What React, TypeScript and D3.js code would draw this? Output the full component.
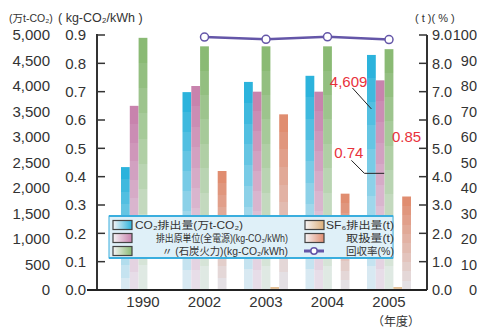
import React from "react";
import * as d3 from "d3";

const years = ["1990", "2002", "2003", "2004", "2005"];
const co2Emission = [2410, 3880, 4080, 4200, 4609]; // 万t-CO2
const intensityAll = [0.65, 0.72, 0.7, 0.7, 0.74]; // kg-CO2/kWh
const intensityCoal = [0.89, 0.86, 0.86, 0.86, 0.85]; // kg-CO2/kWh
const sf6Emission = [0, 0, 0.1, 0, 0.1]; // t
const sf6Handled = [0, 4.2, 6.2, 3.4, 3.3]; // t
const recoveryRate: (number | null)[] = [null, 99.2, 98.3, 99.3, 98.2]; // %

const co2Ticks = [0, 500, 1000, 1500, 2000, 2500, 3000, 3500, 4000, 4500, 5000];
const kwhTicks = [0, 0.1, 0.2, 0.3, 0.4, 0.5, 0.6, 0.7, 0.8, 0.9];
const tTicks = [0, 1, 2, 3, 4, 5, 6, 7, 8, 9];
const pctTicks = [0, 10, 20, 30, 40, 50, 60, 70, 80, 90, 100];

const legendLabels = [
  "CO₂排出量(万t-CO₂)",
  "排出原単位(全電源)(kg-CO₂/kWh)",
  "〃 (石炭火力)(kg-CO₂/kWh)",
  "SF₆排出量(t)",
  "取扱量(t)",
  "回収率(%)",
];

const FONT = "'Liberation Sans', Arial, 'Noto Sans CJK JP', sans-serif";
const RED = "#e8323c";
const PURPLE = "#6456a8";

const W = 477;
const H = 328;
const left = 97;
const right = 427;
const top = 35;
const bottom = 290;

const series = [
  { key: "co2", top: "#2cb3dc", bot: "#d8e9f2" },
  { key: "all", top: "#c883ad", bot: "#e7dde8" },
  { key: "coal", top: "#8aba74", bot: "#dfe9e3" },
  { key: "sf6", top: "#dcae78", bot: "#eadccb" },
  { key: "handled", top: "#e08d70", bot: "#e4e0e4" },
];

export default function App() {
  const x = d3
    .scaleBand<string>()
    .domain(years)
    .range([112.25, 419.75])
    .paddingInner(0.2846)
    .paddingOuter(0.1423);
  const xi = d3
    .scaleBand<string>()
    .domain(series.map((s) => s.key))
    .range([0, x.bandwidth()]);
  const yCo2 = d3.scaleLinear().domain([0, 5000]).range([bottom, top]);
  const yKwh = d3.scaleLinear().domain([0, 0.9]).range([bottom, top]);
  const yT = d3.scaleLinear().domain([0, 9]).range([bottom, top]);
  const yPct = d3.scaleLinear().domain([0, 100]).range([bottom, top]);

  const valueOf = (key: string, i: number) => {
    switch (key) {
      case "co2":
        return yCo2(co2Emission[i]);
      case "all":
        return yKwh(intensityAll[i]);
      case "coal":
        return yKwh(intensityCoal[i]);
      case "sf6":
        return yT(sf6Emission[i]);
      default:
        return yT(sf6Handled[i]);
    }
  };

  const steps = 10;
  const gradStops = (a: string, b: string) => {
    const interp = d3.interpolateRgb(a, b);
    const out: React.ReactElement[] = [];
    for (let i = 0; i < steps; i++) {
      const c = interp(i / (steps - 1));
      out.push(<stop key={i + "a"} offset={i / steps} stopColor={c} />);
      out.push(<stop key={i + "b"} offset={(i + 1) / steps} stopColor={c} />);
    }
    return out;
  };

  const line = d3
    .line<{ v: number; i: number }>()
    .x((d) => (x(years[d.i]) as number) + x.bandwidth() / 2)
    .y((d) => yPct(d.v));
  const linePts = recoveryRate
    .map((v, i) => ({ v: v as number, i }))
    .filter((d) => recoveryRate[d.i] !== null);

  // annotation anchors (from data)
  const last = years.length - 1;
  const bx = (k: string) => (x(years[last]) as number) + (xi(k) as number) + xi.bandwidth() / 2;
  const co2Y = yCo2(co2Emission[last]);
  const allY = yKwh(intensityAll[last]);
  const coalY = yKwh(intensityCoal[last]);

  const legendRows = [
    { key: "co2", y: 225 },
    { key: "all", y: 238 },
    { key: "coal", y: 251 },
  ];

  return (
    <svg width={W} height={H} style={{ position: "absolute", left: 0, top: 0 }} fontFamily={FONT}>
      <defs>
        {series.map((s) => (
          <linearGradient key={s.key} id={"g-" + s.key} x1="0" y1="0" x2="0" y2="1">
            {gradStops(s.top, s.bot)}
          </linearGradient>
        ))}
        {series.map((s) => (
          <linearGradient key={s.key} id={"lg-" + s.key} x1="0" y1="0" x2="1" y2="0">
            <stop offset="0" stopColor="#f6f4f6" />
            <stop offset="1" stopColor={s.top} />
          </linearGradient>
        ))}
      </defs>
      <rect width={W} height={H} fill="#fff" />

      {/* bars */}
      {years.map((yr, i) => (
        <g key={yr} transform={`translate(${x(yr)},0)`}>
          {series.map((s) => {
            const y = valueOf(s.key, i);
            const h = bottom - y;
            if (h <= 0) return null;
            return (
              <rect
                key={s.key}
                x={xi(s.key) as number}
                y={y}
                width={xi.bandwidth()}
                height={h}
                fill={`url(#g-${s.key})`}
              />
            );
          })}
        </g>
      ))}

      {/* axes */}
      <line x1={left} x2={left} y1={top - 1} y2={bottom} stroke="#333" strokeWidth={2} />
      <line x1={right} x2={right} y1={top} y2={bottom} stroke="#333" strokeWidth={2} />
      <line x1={left - 10} x2={right} y1={bottom} y2={bottom} stroke="#222" strokeWidth={2} />
      {kwhTicks.slice(1).map((t) => (
        <line key={t} x1={left} x2={left + 8} y1={yKwh(t)} y2={yKwh(t)} stroke="#333" strokeWidth={1.5} />
      ))}
      {tTicks.slice(1).map((t) => (
        <line key={t} x1={right - 8} x2={right} y1={yT(t)} y2={yT(t)} stroke="#333" strokeWidth={1.5} />
      ))}

      {/* left tick labels */}
      <g fontSize={15} fill="#333" textAnchor="end">
        {co2Ticks.map((t) => (
          <text key={t} x={50} y={yCo2(t)} dy="0.36em">
            {d3.format(",")(t)}
          </text>
        ))}
        {kwhTicks.map((t) => (
          <text key={t} x={86} y={yKwh(t)} dy="0.36em">
            {d3.format(".1f")(t)}
          </text>
        ))}
      </g>
      {/* right tick labels */}
      <g fontSize={14.5} fill="#333">
        {tTicks.map((t) => (
          <text key={t} x={432} y={yT(t)} dy="0.36em">
            {d3.format(".1f")(t)}
          </text>
        ))}
        {pctTicks.map((t) => (
          <text key={t} x={477} y={yPct(t)} dy="0.36em" textAnchor="end">
            {t}
          </text>
        ))}
      </g>

      {/* unit labels */}
      <text x={9} y={22} fontSize={10.5} fill="#333">
        (万t-CO₂)
      </text>
      <text x={58} y={22} fontSize={12.5} fill="#333">
        ( kg-CO₂/kWh )
      </text>
      <text x={415} y={22} fontSize={11} fill="#333">
        ( t )( % )
      </text>

      {/* x labels */}
      <g fontSize={15} fill="#333" textAnchor="middle">
        {years.map((yr) => (
          <text key={yr} x={(x(yr) as number) + x.bandwidth() / 2} y={307}>
            {yr}
          </text>
        ))}
      </g>
      <text x={396} y={322} fontSize={12} fill="#333" textAnchor="middle" dy="0.36em">
        （年度）
      </text>

      {/* recovery rate line */}
      <path d={line(linePts) || ""} fill="none" stroke={PURPLE} strokeWidth={2.5} />
      {linePts.map((d) => (
        <circle
          key={d.i}
          cx={(x(years[d.i]) as number) + x.bandwidth() / 2}
          cy={yPct(d.v)}
          r={4}
          fill="#fff"
          stroke={PURPLE}
          strokeWidth={1.5}
        />
      ))}

      {/* annotations */}
      <g fontSize={15} fill={RED}>
        <text x={bx("co2") - 4} y={co2Y + 27} textAnchor="end" dy="0.36em">
          {d3.format(",")(co2Emission[last])}
        </text>
        <text x={bx("co2") - 8} y={allY + 72} textAnchor="end" dy="0.36em">
          {intensityAll[last].toFixed(2)}
        </text>
        <text x={bx("coal") + 3} y={coalY + 87} dy="0.36em">
          {intensityCoal[last].toFixed(2)}
        </text>
      </g>
      <polyline
        points={`${bx("co2") - 19},${co2Y + 33} ${bx("co2")},${co2Y + 54}`}
        fill="none"
        stroke="#222"
        strokeWidth={1}
      />
      <polyline
        points={`${bx("co2") - 20},${allY + 80} ${bx("co2") - 7},${allY + 93} ${bx("all") + 4},${allY + 93}`}
        fill="none"
        stroke="#222"
        strokeWidth={1}
      />

      {/* legend */}
      <rect x={109} y={216} width={284} height={42} fill="#dff0f8" stroke="#3aaede" strokeWidth={1} />
      <line x1={109} x2={393} y1={216} y2={216} stroke="#3aaede" strokeWidth={2} />
      <line x1={109} x2={393} y1={258} y2={258} stroke="#3aaede" strokeWidth={2} />
      {legendRows.map((r) => (
        <rect
          key={r.key}
          x={113}
          y={r.y - 4.5}
          width={19}
          height={9}
          fill={`url(#lg-${r.key})`}
          stroke="#444"
          strokeWidth={1.2}
        />
      ))}
      <rect x={305} y={225 - 4.5} width={19} height={9} fill="url(#lg-sf6)" stroke="#444" strokeWidth={1.2} />
      <rect x={305} y={238 - 4.5} width={19} height={9} fill="url(#lg-handled)" stroke="#444" strokeWidth={1.2} />
      <line x1={304} x2={324} y1={251} y2={251} stroke={PURPLE} strokeWidth={3} />
      <circle cx={314} cy={251} r={3.2} fill="#fff" stroke={PURPLE} strokeWidth={1.5} />
      <g fontSize={10.5} fill="#333">
        <text x={135} y={225} dy="0.36em" textLength={108} lengthAdjust="spacingAndGlyphs">
          {legendLabels[0]}
        </text>
        <text x={156} y={238} dy="0.36em" textLength={132} lengthAdjust="spacingAndGlyphs">
          {legendLabels[1]}
        </text>
        <text x={162} y={251} dy="0.36em" textLength={126} lengthAdjust="spacingAndGlyphs">
          {legendLabels[2]}
        </text>
        <text x={326} y={225} dy="0.36em" textLength={68} lengthAdjust="spacingAndGlyphs">
          {legendLabels[3]}
        </text>
        <text x={346} y={238} dy="0.36em" textLength={48} lengthAdjust="spacingAndGlyphs">
          {legendLabels[4]}
        </text>
        <text x={346} y={251} dy="0.36em" textLength={48} lengthAdjust="spacingAndGlyphs">
          {legendLabels[5]}
        </text>
      </g>
    </svg>
  );
}
